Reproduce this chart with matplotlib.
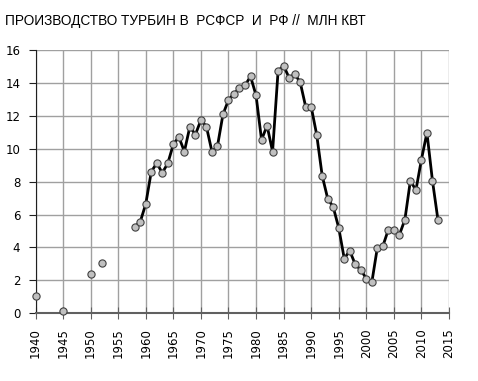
import numpy as np
import matplotlib.pyplot as plt

# Turbine output, RSFSR / RF, mln kW (None = no data)
years = list(range(1940, 2014))
values = {
    1940: 1.03, 1945: 0.12, 1950: 2.35, 1952: 3.06,
    1958: 5.25, 1959: 5.56, 1960: 6.65, 1961: 8.62, 1962: 9.13, 1963: 8.54,
    1964: 9.13, 1965: 10.28, 1966: 10.73, 1967: 9.84, 1968: 11.36, 1969: 10.87,
    1970: 11.76, 1971: 11.36, 1972: 9.84, 1973: 10.16, 1974: 12.1, 1975: 12.98,
    1976: 13.37, 1977: 13.7, 1978: 13.87, 1979: 14.42, 1980: 13.27, 1981: 10.55,
    1982: 11.42, 1983: 9.84, 1984: 14.75, 1985: 15.07, 1986: 14.34, 1987: 14.56,
    1988: 14.08, 1989: 12.58, 1990: 12.58, 1991: 10.87, 1992: 8.37, 1993: 6.97,
    1994: 6.46, 1995: 5.19, 1996: 3.32, 1997: 3.79, 1998: 2.96, 1999: 2.63,
    2000: 2.1, 2001: 1.86, 2002: 3.97, 2003: 4.07, 2004: 5.08, 2005: 5.08,
    2006: 4.76, 2007: 5.69, 2008: 8.07, 2009: 7.48, 2010: 9.35, 2011: 10.99,
    2012: 8.07, 2013: 5.67,
}
series = [values.get(y, np.nan) for y in years]

title = "ПРОИЗВОДСТВО ТУРБИН В  РСФСР  И  РФ //  МЛН КВТ"
x_ticks = list(range(1940, 2016, 5))
y_ticks = list(range(0, 17, 2))

fig = plt.figure(figsize=(4.78, 3.81), dpi=100)
ax = fig.add_axes([0.0743, 0.1785, 0.865, 0.689])

ax.plot(years, series, color="black", lw=2.0, marker="o", ms=5.2,
        mfc="#c0c0c0", mec="#404040", mew=0.8, zorder=3, clip_on=False)

ax.set_xlim(1940, 2015)
ax.set_ylim(0, 16)
ax.set_xticks(x_ticks)
ax.set_yticks(y_ticks)
ax.set_xticklabels([str(t) for t in x_ticks], rotation=90)
ax.grid(True, color="#a0a0a0", lw=1.0)
ax.set_axisbelow(True)

for s in ["top", "right"]:
    ax.spines[s].set_visible(False)
ax.spines["left"].set_color("#202020")
ax.spines["bottom"].set_color("#606060")
ax.spines["bottom"].set_linewidth(1.5)
ax.tick_params(axis="y", direction="out", length=5, color="#202020",
               labelsize=8.5, pad=6)
ax.tick_params(axis="x", direction="inout", length=8, color="#606060",
               labelsize=8.5, pad=7)

fig.text(0.01, 0.945, title, fontsize=9.8, family="Liberation Sans",
         ha="left", va="center")

fig.savefig("out.png", dpi=100)
